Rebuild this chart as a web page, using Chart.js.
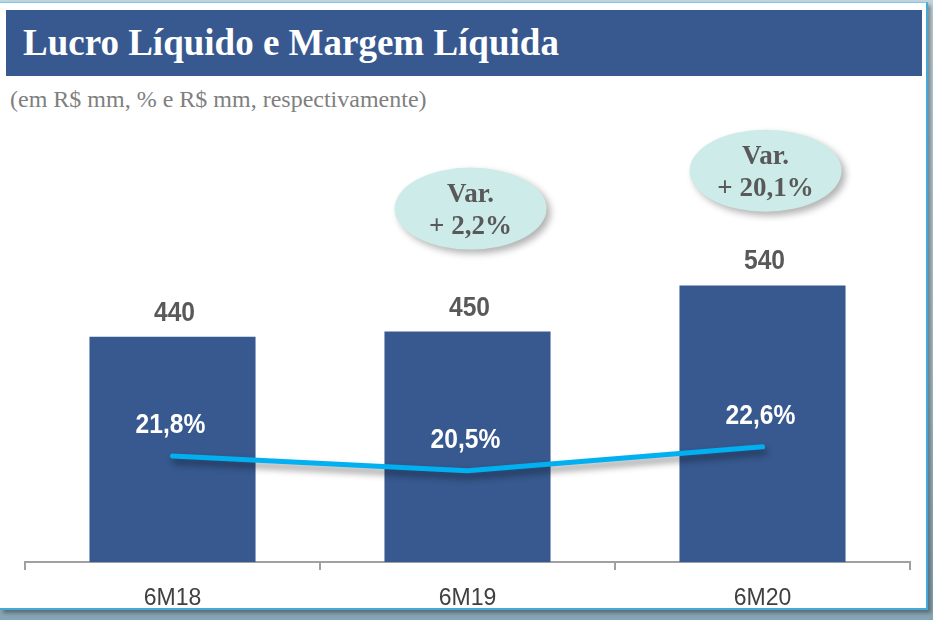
<!DOCTYPE html>
<html>
<head>
<meta charset="utf-8">
<script src="https://cdn.jsdelivr.net/npm/chart.js@4/dist/chart.umd.min.js"></script>
<style>
html,body{margin:0;padding:0;width:933px;height:620px;overflow:hidden;}
body{position:relative;background:linear-gradient(180deg,#c3d6de 0%,#a9c2cd 60%,#86a5b3 100%);}
#panel{position:absolute;left:0;top:2px;width:926px;height:605px;background:#fff;border-top:1px solid #7cc6e6;border-right:2px solid #45a8d5;border-bottom:2px solid #45a8d5;box-shadow:3px 3px 4px rgba(0,0,0,0.35);}
#band{position:absolute;left:6px;top:10px;width:916px;height:66px;background:#37598f;}
#title{position:absolute;left:23px;top:21px;height:66px;line-height:66px;font:bold 37px "Liberation Serif","Times New Roman",serif;color:#fff;white-space:nowrap;}
#sub{position:absolute;left:10px;top:86px;line-height:24px;font:24px "Liberation Serif","Times New Roman",serif;color:#7f7f7f;white-space:nowrap;}
#wrap{position:absolute;left:0;top:110px;width:927px;height:497px;}
</style>
</head>
<body>
<div id="panel"></div>
<div id="band"></div>
<div id="title">Lucro Líquido e Margem Líquida</div>
<div id="sub">(em R$ mm, % e R$ mm, respectivamente)</div>
<div id="wrap"><canvas id="c" width="927" height="497"></canvas></div>
<script>
const categories = ['6M18', '6M19', '6M20'];
const lucroLiquido = [440, 450, 540];
const margemLiquida = [21.8, 20.5, 22.6];
const variationIndex = [1, 2];
const variationTitle = ['Var.', 'Var.'];
const variationText = ['+ 2,2%', '+ 20,1%'];

const SANS = '"Liberation Sans",Arial,sans-serif';
const SERIF = '"Liberation Serif","Times New Roman",serif';

function fmtPct(v){ return v.toFixed(1).replace('.', ',') + '%'; }

function narrowText(ctx, text, x, y, sx) {
  ctx.save();
  ctx.translate(x, y);
  ctx.scale(sx, 1);
  ctx.fillText(text, 0, 0);
  ctx.restore();
}

const lineShadow = {
  id: 'lineShadow',
  beforeDatasetDraw(chart, args) {
    if (args.index === 1) {
      const ctx = chart.ctx;
      ctx.save();
      ctx.shadowColor = 'rgba(0,0,0,0.45)';
      ctx.shadowBlur = 7;
      ctx.shadowOffsetX = 2;
      ctx.shadowOffsetY = 5;
    }
  },
  afterDatasetDraw(chart, args) {
    if (args.index === 1) chart.ctx.restore();
  }
};

const labelsPlugin = {
  id: 'labelsPlugin',
  afterDatasetsDraw(chart) {
    const ctx = chart.ctx;
    ctx.save();
    ctx.textAlign = 'center';
    ctx.textBaseline = 'alphabetic';
    const bars = chart.getDatasetMeta(0).data;
    ctx.font = 'bold 28px ' + SANS;
    ctx.fillStyle = '#595959';
    bars.forEach((b, i) => {
      narrowText(ctx, String(lucroLiquido[i]), b.x + 2, b.y - 16, 0.88);
    });
    const pts = chart.getDatasetMeta(1).data;
    ctx.fillStyle = '#ffffff';
    pts.forEach((p, i) => {
      narrowText(ctx, fmtPct(margemLiquida[i]), p.x - 2, p.y - 23, 0.88);
    });
    ctx.restore();
  }
};

const variationPlugin = {
  id: 'variationPlugin',
  afterDraw(chart, args, opts) {
    const ctx = chart.ctx;
    const bars = chart.getDatasetMeta(0).data;
    const ys = chart.scales.y;
    variationIndex.forEach((idx, k) => {
      const cx = bars[idx].x + opts.dx;
      const cy = ys.getPixelForValue(opts.yValues[k]);
      ctx.save();
      ctx.shadowColor = 'rgba(0,0,0,0.3)';
      ctx.shadowBlur = 7;
      ctx.shadowOffsetX = 4;
      ctx.shadowOffsetY = 4;
      ctx.beginPath();
      ctx.ellipse(cx, cy, opts.rx, opts.ry, 0, 0, Math.PI * 2);
      ctx.fillStyle = '#cdece9';
      ctx.fill();
      ctx.restore();
      ctx.save();
      ctx.fillStyle = '#595959';
      ctx.font = 'bold 27px ' + SERIF;
      ctx.textAlign = 'center';
      ctx.textBaseline = 'alphabetic';
      ctx.fillText(variationTitle[k], cx, cy - 7);
      ctx.fillText(variationText[k], cx, cy + 25);
      ctx.restore();
    });
  }
};

new Chart(document.getElementById('c'), {
  type: 'bar',
  data: {
    labels: categories,
    datasets: [
      {
        type: 'bar',
        data: lucroLiquido,
        backgroundColor: '#37598f',
        borderWidth: 0,
        categoryPercentage: 1,
        barPercentage: 0.563,
        yAxisID: 'y',
        order: 2
      },
      {
        type: 'line',
        data: margemLiquida,
        borderColor: '#00b0f0',
        borderWidth: 5,
        borderCapStyle: 'round',
        borderJoinStyle: 'round',
        pointRadius: 0,
        tension: 0,
        fill: false,
        yAxisID: 'y1',
        order: 1
      }
    ]
  },
  options: {
    responsive: false,
    animation: false,
    events: [],
    layout: { padding: { top: 10, left: 25, right: 17, bottom: 0 } },
    plugins: {
      legend: { display: false },
      tooltip: { enabled: false },
      title: { display: false },
      variationPlugin: { dx: 3, yValues: [690, 764], rx: 76, ry: 41 }
    },
    scales: {
      x: {
        offset: true,
        afterFit(scale) { scale.height = 45; },
        grid: { offset: true, drawOnChartArea: false, drawTicks: true, tickLength: 8, color: '#a0a0a0', lineWidth: 2 },
        border: { display: true, color: '#a0a0a0', width: 2 },
        ticks: { font: { family: SANS, size: 23 }, color: '#404040', padding: 15 }
      },
      y: { display: false, min: 0, max: 863 },
      y1: { display: false, min: 12.5, max: 51.27 }
    }
  },
  plugins: [lineShadow, labelsPlugin, variationPlugin]
});
</script>
</body>
</html>
